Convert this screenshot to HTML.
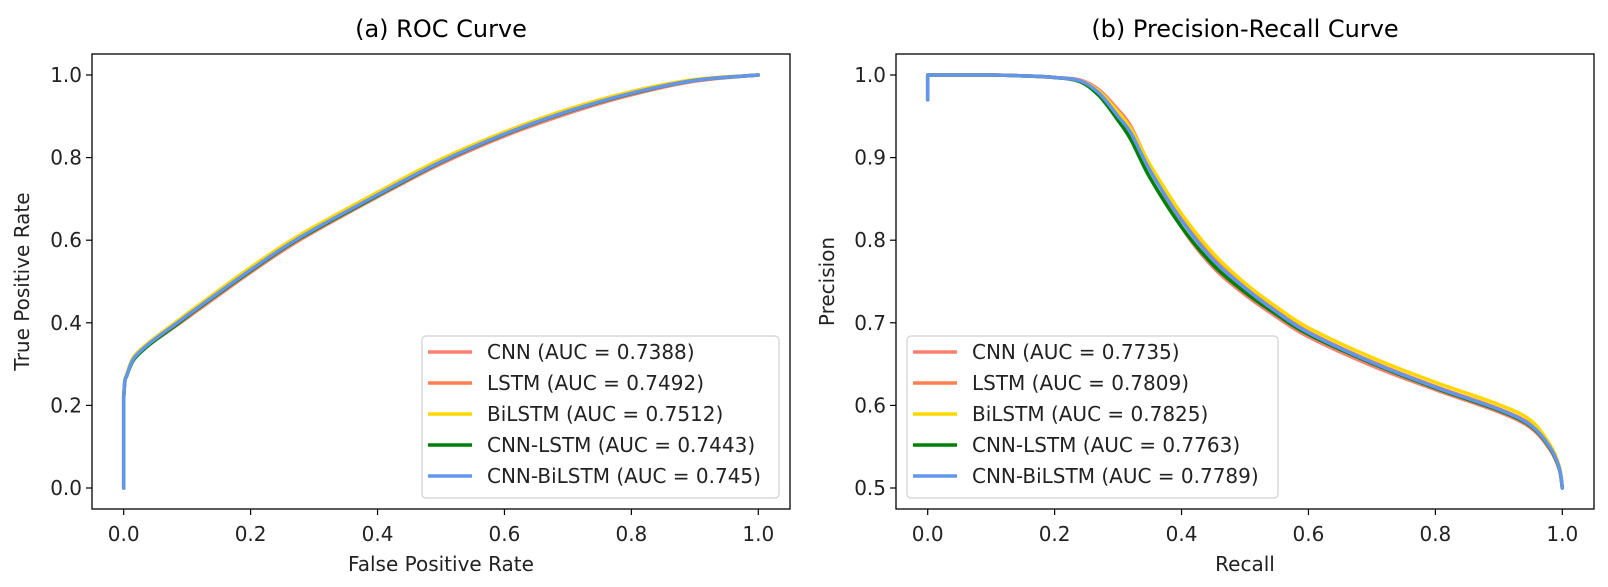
<!DOCTYPE html>
<html><head><meta charset="utf-8"><style>
html,body{margin:0;padding:0;background:#fff;}
svg{display:block;font-family:"DejaVu Sans","Liberation Sans",sans-serif;}
</style></head><body>
<svg id="fig" width="1608" height="587" viewBox="0 0 1608 587" xmlns="http://www.w3.org/2000/svg"></svg>
<script>
const seriesNames = ["CNN","LSTM","BiLSTM","CNN-LSTM","CNN-BiLSTM"];
const seriesColors = ["#fa8072","#ff7f50","#ffd700","#008000","#6495ed"];
const rocAuc = ["0.7388","0.7492","0.7512","0.7443","0.745"];
const prAuc = ["0.7735","0.7809","0.7825","0.7763","0.7789"];
const rocFpr = [0,0,0.002,0.005,0.016,0.042,0.08,0.12,0.2,0.277,0.4,0.5,0.6,0.7,0.8,0.9,1.0];
const rocTprCNN = [0,0.22,0.26,0.275,0.313,0.349,0.39,0.434,0.522,0.6,0.705,0.785,0.852,0.907,0.952,0.985,1.0];
const rocTprLSTM = [0,0.22,0.26,0.275,0.316,0.352,0.395,0.44,0.528,0.606,0.71,0.79,0.857,0.912,0.956,0.987,1.0];
const rocTprBiLSTM = [0,0.22,0.26,0.276,0.318,0.355,0.399,0.445,0.534,0.612,0.716,0.796,0.862,0.917,0.96,0.989,1.0];
const rocTprCNNLSTM = [0,0.22,0.26,0.272,0.311,0.349,0.392,0.438,0.526,0.604,0.708,0.789,0.856,0.911,0.955,0.987,1.0];
const rocTprCNNBiLSTM = [0,0.22,0.26,0.273,0.314,0.352,0.395,0.44,0.528,0.606,0.71,0.79,0.857,0.912,0.956,0.987,1.0];
const prRecall = [0,0,0.05,0.1,0.15,0.2,0.24,0.27,0.3,0.32,0.35,0.4,0.45,0.5,0.55,0.6,0.7,0.8,0.9,0.95,0.98,0.995,1.0];
const prCNN = [0.97,1.0,1.0,1.0,0.999,0.997,0.994,0.982,0.958,0.938,0.89,0.816,0.767,0.734,0.707,0.683,0.648,0.619,0.592,0.573,0.547,0.523,0.5];
const prLSTM = [0.97,1.0,1.0,1.0,0.999,0.997,0.993,0.98,0.955,0.934,0.888,0.826,0.778,0.743,0.714,0.689,0.653,0.623,0.596,0.577,0.55,0.525,0.5];
const prBiLSTM = [0.97,1.0,1.0,1.0,0.999,0.997,0.993,0.98,0.955,0.935,0.892,0.832,0.784,0.748,0.719,0.694,0.658,0.628,0.601,0.582,0.553,0.527,0.5];
const prCNNLSTM = [0.97,1.0,1.0,1.0,0.999,0.997,0.992,0.975,0.945,0.922,0.876,0.816,0.77,0.737,0.71,0.686,0.651,0.621,0.594,0.575,0.549,0.524,0.5];
const prCNNBiLSTM = [0.97,1.0,1.0,1.0,0.999,0.997,0.993,0.978,0.95,0.93,0.885,0.824,0.776,0.742,0.713,0.688,0.652,0.622,0.595,0.576,0.55,0.525,0.5];
const rocTprAll = [rocTprCNN,rocTprLSTM,rocTprBiLSTM,rocTprCNNLSTM,rocTprCNNBiLSTM];
const prAll = [prCNN,prLSTM,prBiLSTM,prCNNLSTM,prCNNBiLSTM];
const rocXTicks = [0,0.2,0.4,0.6,0.8,1.0];
const rocYTicks = [0,0.2,0.4,0.6,0.8,1.0];
const prXTicks = [0,0.2,0.4,0.6,0.8,1.0];
const prYTicks = [0.5,0.6,0.7,0.8,0.9,1.0];

const NS="http://www.w3.org/2000/svg";
const svg=document.getElementById('fig');
function mk(tag,attrs,parent){const e=document.createElementNS(NS,tag);for(const k in attrs)e.setAttribute(k,attrs[k]);(parent||svg).appendChild(e);return e;}
function smoothPath(allPts){
  // leading points sharing the same x are drawn as straight segments
  let k=0;
  while(k+1<allPts.length && Math.abs(allPts[k+1][0]-allPts[0][0])<0.01) k++;
  let d="M"+allPts[0][0].toFixed(2)+","+allPts[0][1].toFixed(2);
  for(let i=1;i<=k;i++) d+=" L"+allPts[i][0].toFixed(2)+","+allPts[i][1].toFixed(2);
  const pts=allPts.slice(k);
  for(let i=0;i<pts.length-1;i++){
    const p0=pts[Math.max(i-1,0)],p1=pts[i],p2=pts[i+1],p3=pts[Math.min(i+2,pts.length-1)];
    const c1=[p1[0]+(p2[0]-p0[0])/6,p1[1]+(p2[1]-p0[1])/6];
    const c2=[p2[0]-(p3[0]-p1[0])/6,p2[1]-(p3[1]-p1[1])/6];
    d+=" C"+c1[0].toFixed(2)+","+c1[1].toFixed(2)+" "+c2[0].toFixed(2)+","+c2[1].toFixed(2)+" "+p2[0].toFixed(2)+","+p2[1].toFixed(2);
  }
  return d;
}

function panel(cfg){
  const g=mk('g',{});
  
  
  const L=cfg.left,R=cfg.left+698,T=54,B=509;
  const x0=L+31.7,x1=R-31.7;
  const sx=v=>x0+(v-cfg.xmin)/(cfg.xmax-cfg.xmin)*(x1-x0);
  const sy=v=>488-(v-cfg.ymin)/(cfg.ymax-cfg.ymin)*413;
  const t=mk('text',{x:(L+R)/2,y:37,'text-anchor':'middle','font-size':24,fill:'#000'},g);
  t.textContent=cfg.title;
  
  
  for(let s=0;s<seriesNames.length;s++){
    const ys=cfg.ys[s];
    const pts=cfg.xs.map((xv,i)=>[sx(xv),sy(ys[i])]);
    const p=mk('path',{d:smoothPath(pts),fill:'none',stroke:seriesColors[s],'stroke-width':3.5,'stroke-linejoin':'round','stroke-linecap':'round'},g);
    
    
  }
  const f=mk('rect',{x:L,y:T,width:R-L,height:B-T,fill:'none',stroke:'#000','stroke-width':1.3},g);
  
  
  cfg.xticks.forEach(v=>{
    mk('line',{x1:sx(v),x2:sx(v),y1:B,y2:B+6,stroke:'#000','stroke-width':1.2},g);
    const tl=mk('text',{x:sx(v),y:541,'text-anchor':'middle','font-size':20,fill:'#222'},g);
    tl.textContent=v.toFixed(1);
    
    
  });
  cfg.yticks.forEach(v=>{
    mk('line',{x1:L-6,x2:L,y1:sy(v),y2:sy(v),stroke:'#000','stroke-width':1.2},g);
    const tl=mk('text',{x:L-10,y:sy(v)+7,'text-anchor':'end','font-size':20,fill:'#222'},g);
    tl.textContent=v.toFixed(1);
    
    
  });
  const xl=mk('text',{x:(L+R)/2,y:571,'text-anchor':'middle','font-size':20,fill:'#222'},g);
  xl.textContent=cfg.xlabel;
  
  
  const yl=mk('text',{x:0,y:0,'text-anchor':'middle','font-size':20,fill:'#222',transform:'translate('+(cfg.ylabelX)+','+((T+B)/2)+') rotate(-90)'},g);
  yl.textContent=cfg.ylabel;
  
  
  const lg=mk('g',{},g);
  
  
  mk('rect',{x:cfg.legX,y:336,width:cfg.legW,height:162,rx:4,fill:'#fff','fill-opacity':0.85,stroke:'#d0d0d0','stroke-width':1.2},lg);
  for(let s=0;s<seriesNames.length;s++){
    const cy=352+s*31;
    const ent=mk('g',{},lg);
    
    
    mk('line',{x1:cfg.legX+6,x2:cfg.legX+50,y1:cy,y2:cy,stroke:seriesColors[s],'stroke-width':3.5},ent);
    const tx=mk('text',{x:cfg.legX+65,y:cy+7,'font-size':20,fill:'#222'},ent);
    tx.textContent=seriesNames[s]+" (AUC = "+cfg.auc[s]+")";
  }
}

panel({name:'roc-panel',title:'(a) ROC Curve',left:92,xmin:0,xmax:1,ymin:0,ymax:1,xs:rocFpr,ys:rocTprAll,
  xticks:rocXTicks,yticks:rocYTicks,xlabel:'False Positive Rate',ylabel:'True Positive Rate',ylabelX:29,
  legX:422,legW:357,auc:rocAuc});
panel({name:'pr-panel',title:'(b) Precision-Recall Curve',left:896,xmin:0,xmax:1,ymin:0.5,ymax:1,xs:prRecall,ys:prAll,
  xticks:prXTicks,yticks:prYTicks,xlabel:'Recall',ylabel:'Precision',ylabelX:834,
  legX:907,legW:371,auc:prAuc});
</script>
</body></html>
